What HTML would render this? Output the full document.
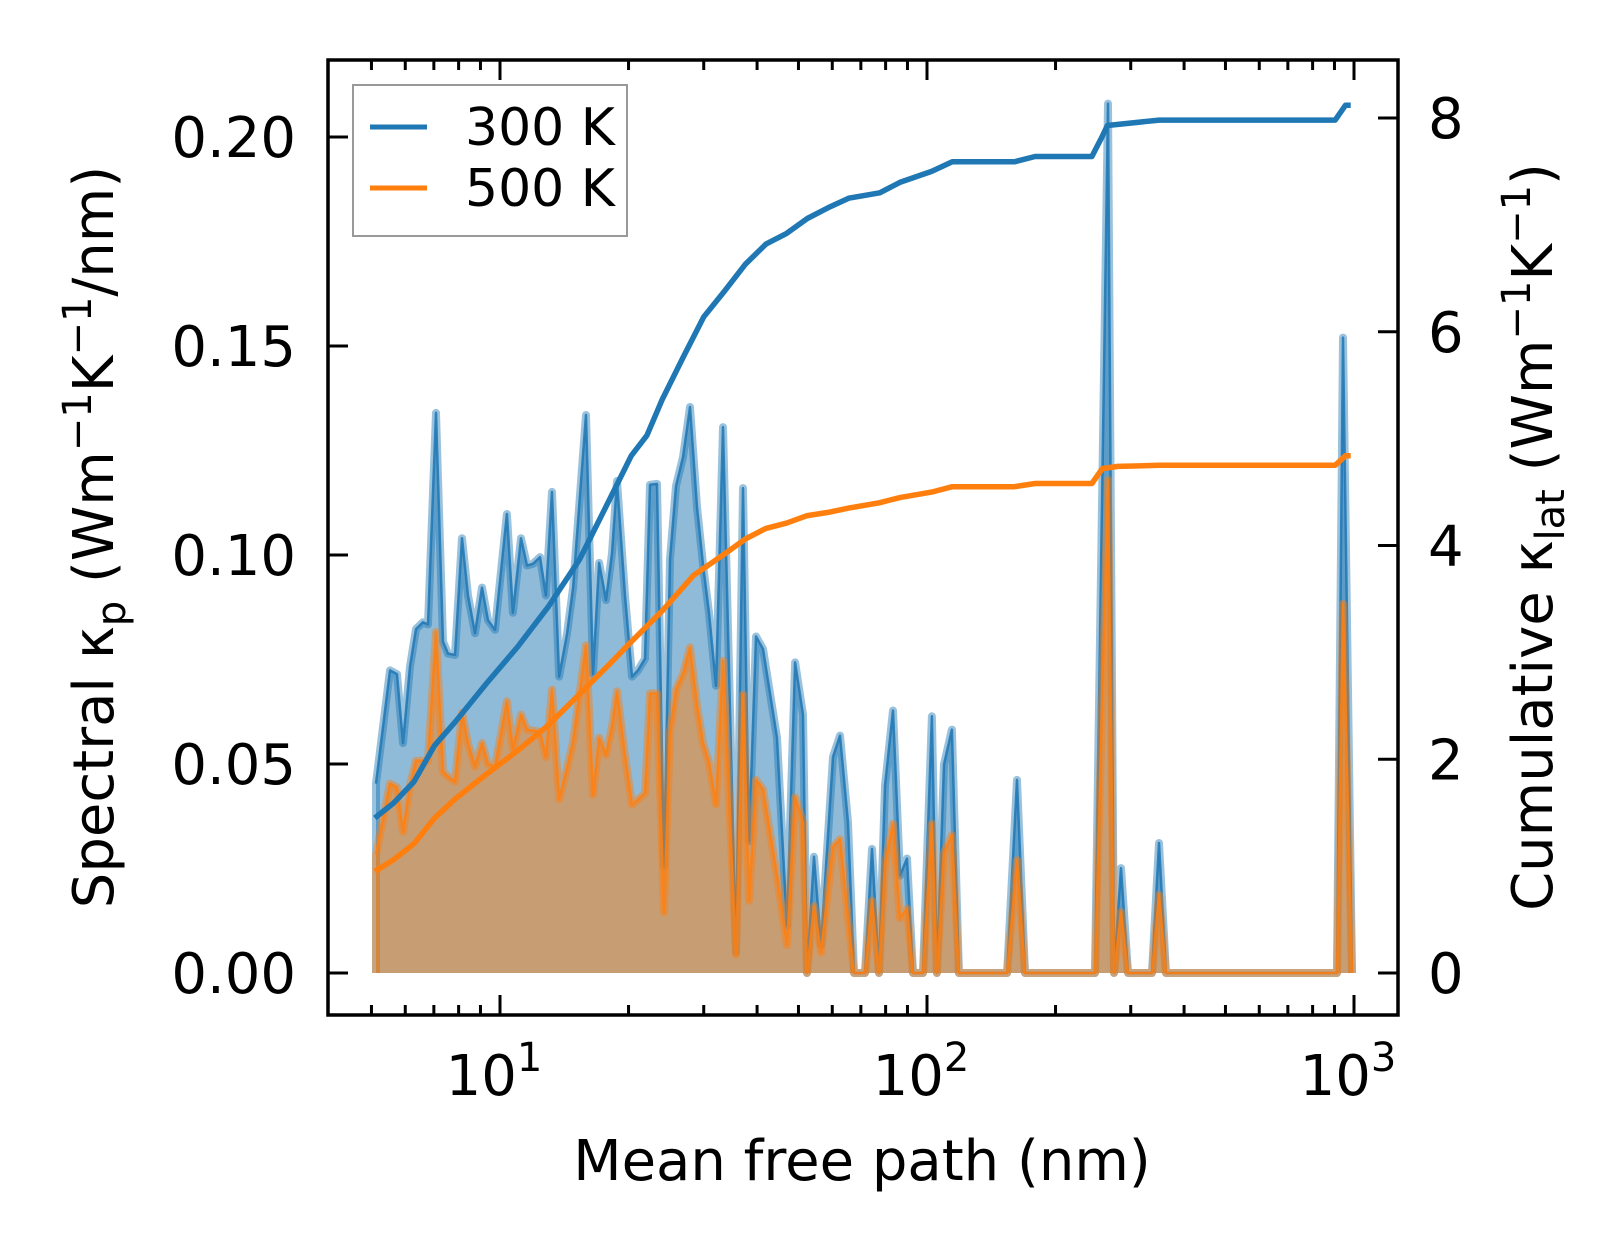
<!DOCTYPE html>
<html><head><meta charset="utf-8"><style>
html,body{margin:0;padding:0;background:#fff;}
svg{display:block;font-family:"DejaVu Sans","Liberation Sans",sans-serif;}
</style></head><body>
<svg id="chart" width="1623" height="1254" viewBox="0 0 1623 1254" xmlns="http://www.w3.org/2000/svg">
<defs><clipPath id="plotclip"><rect x="328" y="60" width="1070" height="955"/></clipPath></defs>
<g id="plot" clip-path="url(#plotclip)"></g>
<g id="axes"></g>
<text x="862" y="1180" font-size="56" text-anchor="middle">Mean free path (nm)</text>
<text transform="translate(113,537) rotate(-90)" font-size="56" text-anchor="middle">Spectral κ<tspan font-size="40" baseline-shift="-12">p</tspan> (Wm<tspan font-size="40" baseline-shift="22">−1</tspan>K<tspan font-size="40" baseline-shift="22">−1</tspan>/nm)</text>
<text transform="translate(1552,537) rotate(-90)" font-size="56" text-anchor="middle">Cumulative κ<tspan font-size="40" baseline-shift="-12">lat</tspan> (Wm<tspan font-size="40" baseline-shift="22">−1</tspan>K<tspan font-size="40" baseline-shift="22">−1</tspan>)</text>
<g>
<rect x="353" y="85" width="274" height="151" fill="#fff" stroke="#999" stroke-width="2"/>
<line x1="370" y1="127" x2="427" y2="127" stroke="#1f77b4" stroke-width="5"/>
<text x="465" y="145" font-size="52">300 K</text>
<line x1="370" y1="188" x2="427" y2="188" stroke="#ff7f0e" stroke-width="5"/>
<text x="465" y="206" font-size="52">500 K</text>
</g>
</svg>
<script>
const mfp = [5.124,5.526,5.739,5.927,6.155,6.357,6.602,6.783,7.081,7.354,7.555,7.846,8.147,8.416,8.740,9.076,9.373,9.734,10.38,10.72,11.20,11.57,11.95,12.41,12.81,13.24,13.75,14.35,14.83,15.90,16.51,17.06,17.71,18.29,18.79,19.62,20.38,21.05,21.86,22.45,23.32,24.22,25.01,25.84,26.83,27.86,28.93,29.88,30.87,32.06,33.29,35.70,37.07,38.30,39.77,41.30,44.54,47.01,49.09,51.24,52.36,54.37,56.46,60.23,62.56,65.31,67.45,71.58,74.34,77.20,79.74,83.26,86.47,89.80,92.73,97.86,102.7,105.5,109.6,114.4,118.8,154.0,162.5,169.6,247.4,265.4,274.1,284.6,295.6,336.5,349.4,362.8,912.5,942.5,989.2];
const spec300 = [0.0453,0.0724,0.0715,0.055,0.0733,0.0823,0.0839,0.0834,0.134,0.0793,0.0764,0.0761,0.104,0.0903,0.0813,0.0922,0.0844,0.0821,0.1098,0.0862,0.104,0.0975,0.0979,0.0995,0.0903,0.1151,0.0709,0.0811,0.0922,0.1335,0.0715,0.0981,0.0892,0.1004,0.1177,0.0903,0.0709,0.0724,0.0752,0.1168,0.117,0.0255,0.099,0.1165,0.1234,0.1354,0.1115,0.0977,0.0862,0.0687,0.1306,0.0049,0.116,0.0315,0.0805,0.0775,0.0563,0.0113,0.0743,0.0618,0,0.0278,0.0067,0.0517,0.0568,0.036,0,0,0.0297,0,0.0448,0.0628,0.0233,0.0274,0,0,0.0614,0,0.0499,0.0582,0,0,0.0462,0,0,0.208,0,0.0251,0,0,0.0311,0,0,0.152,0];
const spec500 = [0.0283,0.0453,0.0444,0.0338,0.045,0.0508,0.0508,0.0508,0.0816,0.0481,0.047,0.0458,0.0623,0.055,0.0494,0.055,0.050,0.0494,0.065,0.0536,0.0618,0.0582,0.058,0.0577,0.0517,0.0678,0.0416,0.049,0.0554,0.0784,0.0426,0.0563,0.0522,0.059,0.0674,0.052,0.0403,0.0415,0.043,0.0669,0.0669,0.0145,0.0577,0.0678,0.0715,0.0779,0.0641,0.055,0.0504,0.0403,0.0747,0.0044,0.0666,0.0173,0.0462,0.0439,0.0233,0.0067,0.042,0.036,0,0.016,0.0049,0.0302,0.032,0.0131,0,0,0.0173,0,0.026,0.0357,0.0131,0.0154,0,0,0.0357,0,0.0288,0.033,0,0,0.027,0,0,0.118,0,0.0146,0,0,0.0187,0,0,0.0883,0];
const cumMfp300 = [5.09,5.63,6.29,7.03,7.86,9.30,10.99,12.99,15.36,18.16,20.30,22.08,24.01,26.84,30.01,33.55,37.52,41.95,46.91,52.45,58.64,65.56,77.52,86.68,102.5,114.6,160.2,179.1,243.3,257.3,264.6,349.9,903.6,955.3,982.4];
const cum300 = [1.45,1.59,1.79,2.13,2.35,2.71,3.05,3.43,3.87,4.45,4.84,5.03,5.37,5.76,6.14,6.38,6.63,6.82,6.92,7.06,7.16,7.25,7.30,7.40,7.50,7.59,7.59,7.64,7.64,7.83,7.93,7.98,7.98,8.12,8.12];
const cumMfp500 = [5.09,5.63,6.29,7.03,7.86,9.30,10.99,12.99,15.36,18.16,20.30,24.01,28.39,33.55,37.52,41.95,46.91,52.45,58.64,65.56,77.52,86.68,102.5,114.6,160.2,179.1,243.3,257.3,279.8,349.9,903.6,955.3,982.4];
const cum500 = [0.95,1.06,1.21,1.45,1.63,1.86,2.08,2.32,2.61,2.90,3.10,3.39,3.72,3.92,4.06,4.16,4.21,4.28,4.31,4.35,4.40,4.45,4.50,4.55,4.55,4.58,4.58,4.72,4.74,4.75,4.75,4.84,4.84];
const leftTicks = [0, 0.05, 0.10, 0.15, 0.20];
const leftTickLabels = ["0.00","0.05","0.10","0.15","0.20"];
const rightTicks = [0, 2, 4, 6, 8];
const xMajor = [1, 2, 3];

const NS = "http://www.w3.org/2000/svg";
const X0 = 328, X1 = 1398, Y0 = 60, Y1 = 1015;
const xs = v => 500 + (Math.log10(v) - 1) * 427;
const yL = v => 973 - v * 4180;
const yR = v => 973 - v * 106.875;
function mk(tag, attrs, parent) {
  const e = document.createElementNS(NS, tag);
  for (const k in attrs) e.setAttribute(k, attrs[k]);
  parent.appendChild(e);
  return e;
}
const plot = document.getElementById('plot');
const axes = document.getElementById('axes');

function spectral(vals, color, name) {
  let pts = vals.map((v, i) => xs(mfp[i]).toFixed(1) + ',' + yL(v).toFixed(1));
  const fillPts = xs(mfp[0]).toFixed(1) + ',' + yL(0) + ' ' + pts.join(' ') + ' ' + xs(mfp[mfp.length - 1]).toFixed(1) + ',' + yL(0);
  const f = mk('polygon', {points: fillPts, fill: color, 'fill-opacity': 0.5, stroke: 'none'}, plot);
  
  
  const h = mk('polyline', {points: fillPts, fill: 'none', stroke: color, 'stroke-opacity': 0.45, 'stroke-width': 8, 'stroke-linejoin': 'round'}, plot);
  
  
  const l = mk('polyline', {points: pts.join(' '), fill: 'none', stroke: color, 'stroke-opacity': 0.85, 'stroke-width': 2.5, 'stroke-linejoin': 'round'}, plot);
  
  
}
spectral(spec300, '#1f77b4', 'spectral-300k');
spectral(spec500, '#ff7f0e', 'spectral-500k');

function cumLine(xv, vals, color, name) {
  const pts = vals.map((v, i) => xs(xv[i]).toFixed(1) + ',' + yR(v).toFixed(1)).join(' ');
  const l = mk('polyline', {points: pts, fill: 'none', stroke: color, 'stroke-width': 5.5, 'stroke-linejoin': 'round'}, plot);
  
  
}
cumLine(cumMfp300, cum300, '#1f77b4', 'cumulative-300k-line');
cumLine(cumMfp500, cum500, '#ff7f0e', 'cumulative-500k-line');

leftTicks.forEach((v, i) => {
  const y = yL(v);
  const t = mk('line', {x1: X0, y1: y, x2: X0 + 20, y2: y, stroke: '#000', 'stroke-width': 3}, axes);
  
  
  const tx = mk('text', {x: 296, y: y + 20, 'font-size': 56, 'text-anchor': 'end'}, axes);
  tx.textContent = leftTickLabels[i];
  
  
});
rightTicks.forEach(v => {
  const y = yR(v);
  const t = mk('line', {x1: X1 - 20, y1: y, x2: X1, y2: y, stroke: '#000', 'stroke-width': 3}, axes);
  
  
  const tx = mk('text', {x: 1428, y: y + 20, 'font-size': 56, 'text-anchor': 'start'}, axes);
  tx.textContent = String(v);
  
  
});
for (let d = 0; d <= 3; d++) {
  for (let m = 1; m <= 9; m++) {
    const v = m * Math.pow(10, d);
    const x = xs(v);
    if (x < X0 + 4 || x > X1 - 4) continue;
    const len = m === 1 ? 20 : 10;
    const b = mk('line', {x1: x, y1: Y1, x2: x, y2: Y1 - len, stroke: '#000', 'stroke-width': 3}, axes);
    
    
    const t = mk('line', {x1: x, y1: Y0, x2: x, y2: Y0 + len, stroke: '#000', 'stroke-width': 3}, axes);
    
    
  }
}
xMajor.forEach(e => {
  const x = xs(Math.pow(10, e));
  const tx = mk('text', {x: x - 6, y: 1095, 'font-size': 56, 'text-anchor': 'middle'}, axes);
  
  
  tx.appendChild(document.createTextNode('10'));
  const s = mk('tspan', {'font-size': 40, dy: -24}, tx);
  s.textContent = String(e);
});
const frame = mk('rect', {x: X0, y: Y0, width: X1 - X0, height: Y1 - Y0, fill: 'none', stroke: '#000', 'stroke-width': 3.5}, axes);


</script>
</body></html>
